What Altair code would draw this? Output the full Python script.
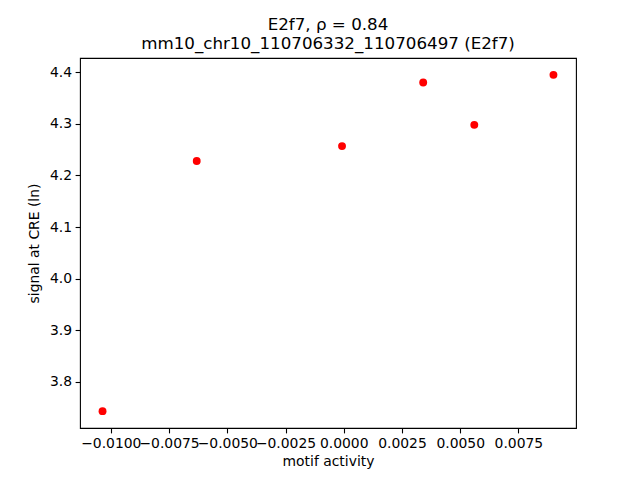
import altair as alt
import pandas as pd

motif_activity = [-0.010356, -0.006312, -0.000073, 0.003412, 0.005606, 0.009005]
signal = [3.7434, 4.2278, 4.2568, 4.3799, 4.2980, 4.3948]
x_ticks = [-0.01, -0.0075, -0.005, -0.0025, 0.0, 0.0025, 0.005, 0.0075]
y_ticks = [3.8, 3.9, 4.0, 4.1, 4.2, 4.3, 4.4]
title_lines = ["E2f7, ρ = 0.84", "mm10_chr10_110706332_110706497 (E2f7)"]

df = pd.DataFrame({"x": motif_activity, "y": signal})

FONT = "DejaVu Sans"

chart = alt.Chart(df).mark_circle(size=62, color="red", opacity=1).encode(
    x=alt.X("x:Q", scale=alt.Scale(domain=[-0.011324, 0.009973], nice=False, zero=False),
            axis=alt.Axis(values=x_ticks, format=".4f", title="motif activity", grid=False,
                          tickSize=4.9, tickWidth=1.1, tickColor="black", domain=False,
                          labelPadding=3.5, labelFont=FONT, labelFontSize=13.9, labelColor="black",
                          titleFont=FONT, titleFontSize=13.9, titleFontWeight="normal",
                          titleColor="black", titlePadding=4, labelFlush=False, labelOverlap=False)),
    y=alt.Y("y:Q", scale=alt.Scale(domain=[3.7108, 4.4274], nice=False, zero=False),
            axis=alt.Axis(values=y_ticks, format=".1f", title="signal at CRE (ln)", grid=False,
                          tickSize=4.9, tickWidth=1.1, tickColor="black", domain=False,
                          labelPadding=3.5, labelFont=FONT, labelFontSize=13.9, labelColor="black",
                          titleFont=FONT, titleFontSize=13.9, titleFontWeight="normal",
                          titleColor="black", titlePadding=8, labelFlush=False, labelOverlap=False)),
).properties(
    width=496,
    height=370,
    title=alt.TitleParams(text=title_lines, font=FONT, fontSize=16.7, fontWeight="normal",
                          color="black", anchor="middle", offset=5, lineHeight=19.5),
    autosize=alt.AutoSizeParams(type="none"),
    padding={"left": 72, "top": 50, "right": 56, "bottom": 44},
    background="white",
).configure_view(stroke="black", strokeWidth=1.1)

chart.save("out.html", embed_options={"renderer": "svg", "actions": False})
